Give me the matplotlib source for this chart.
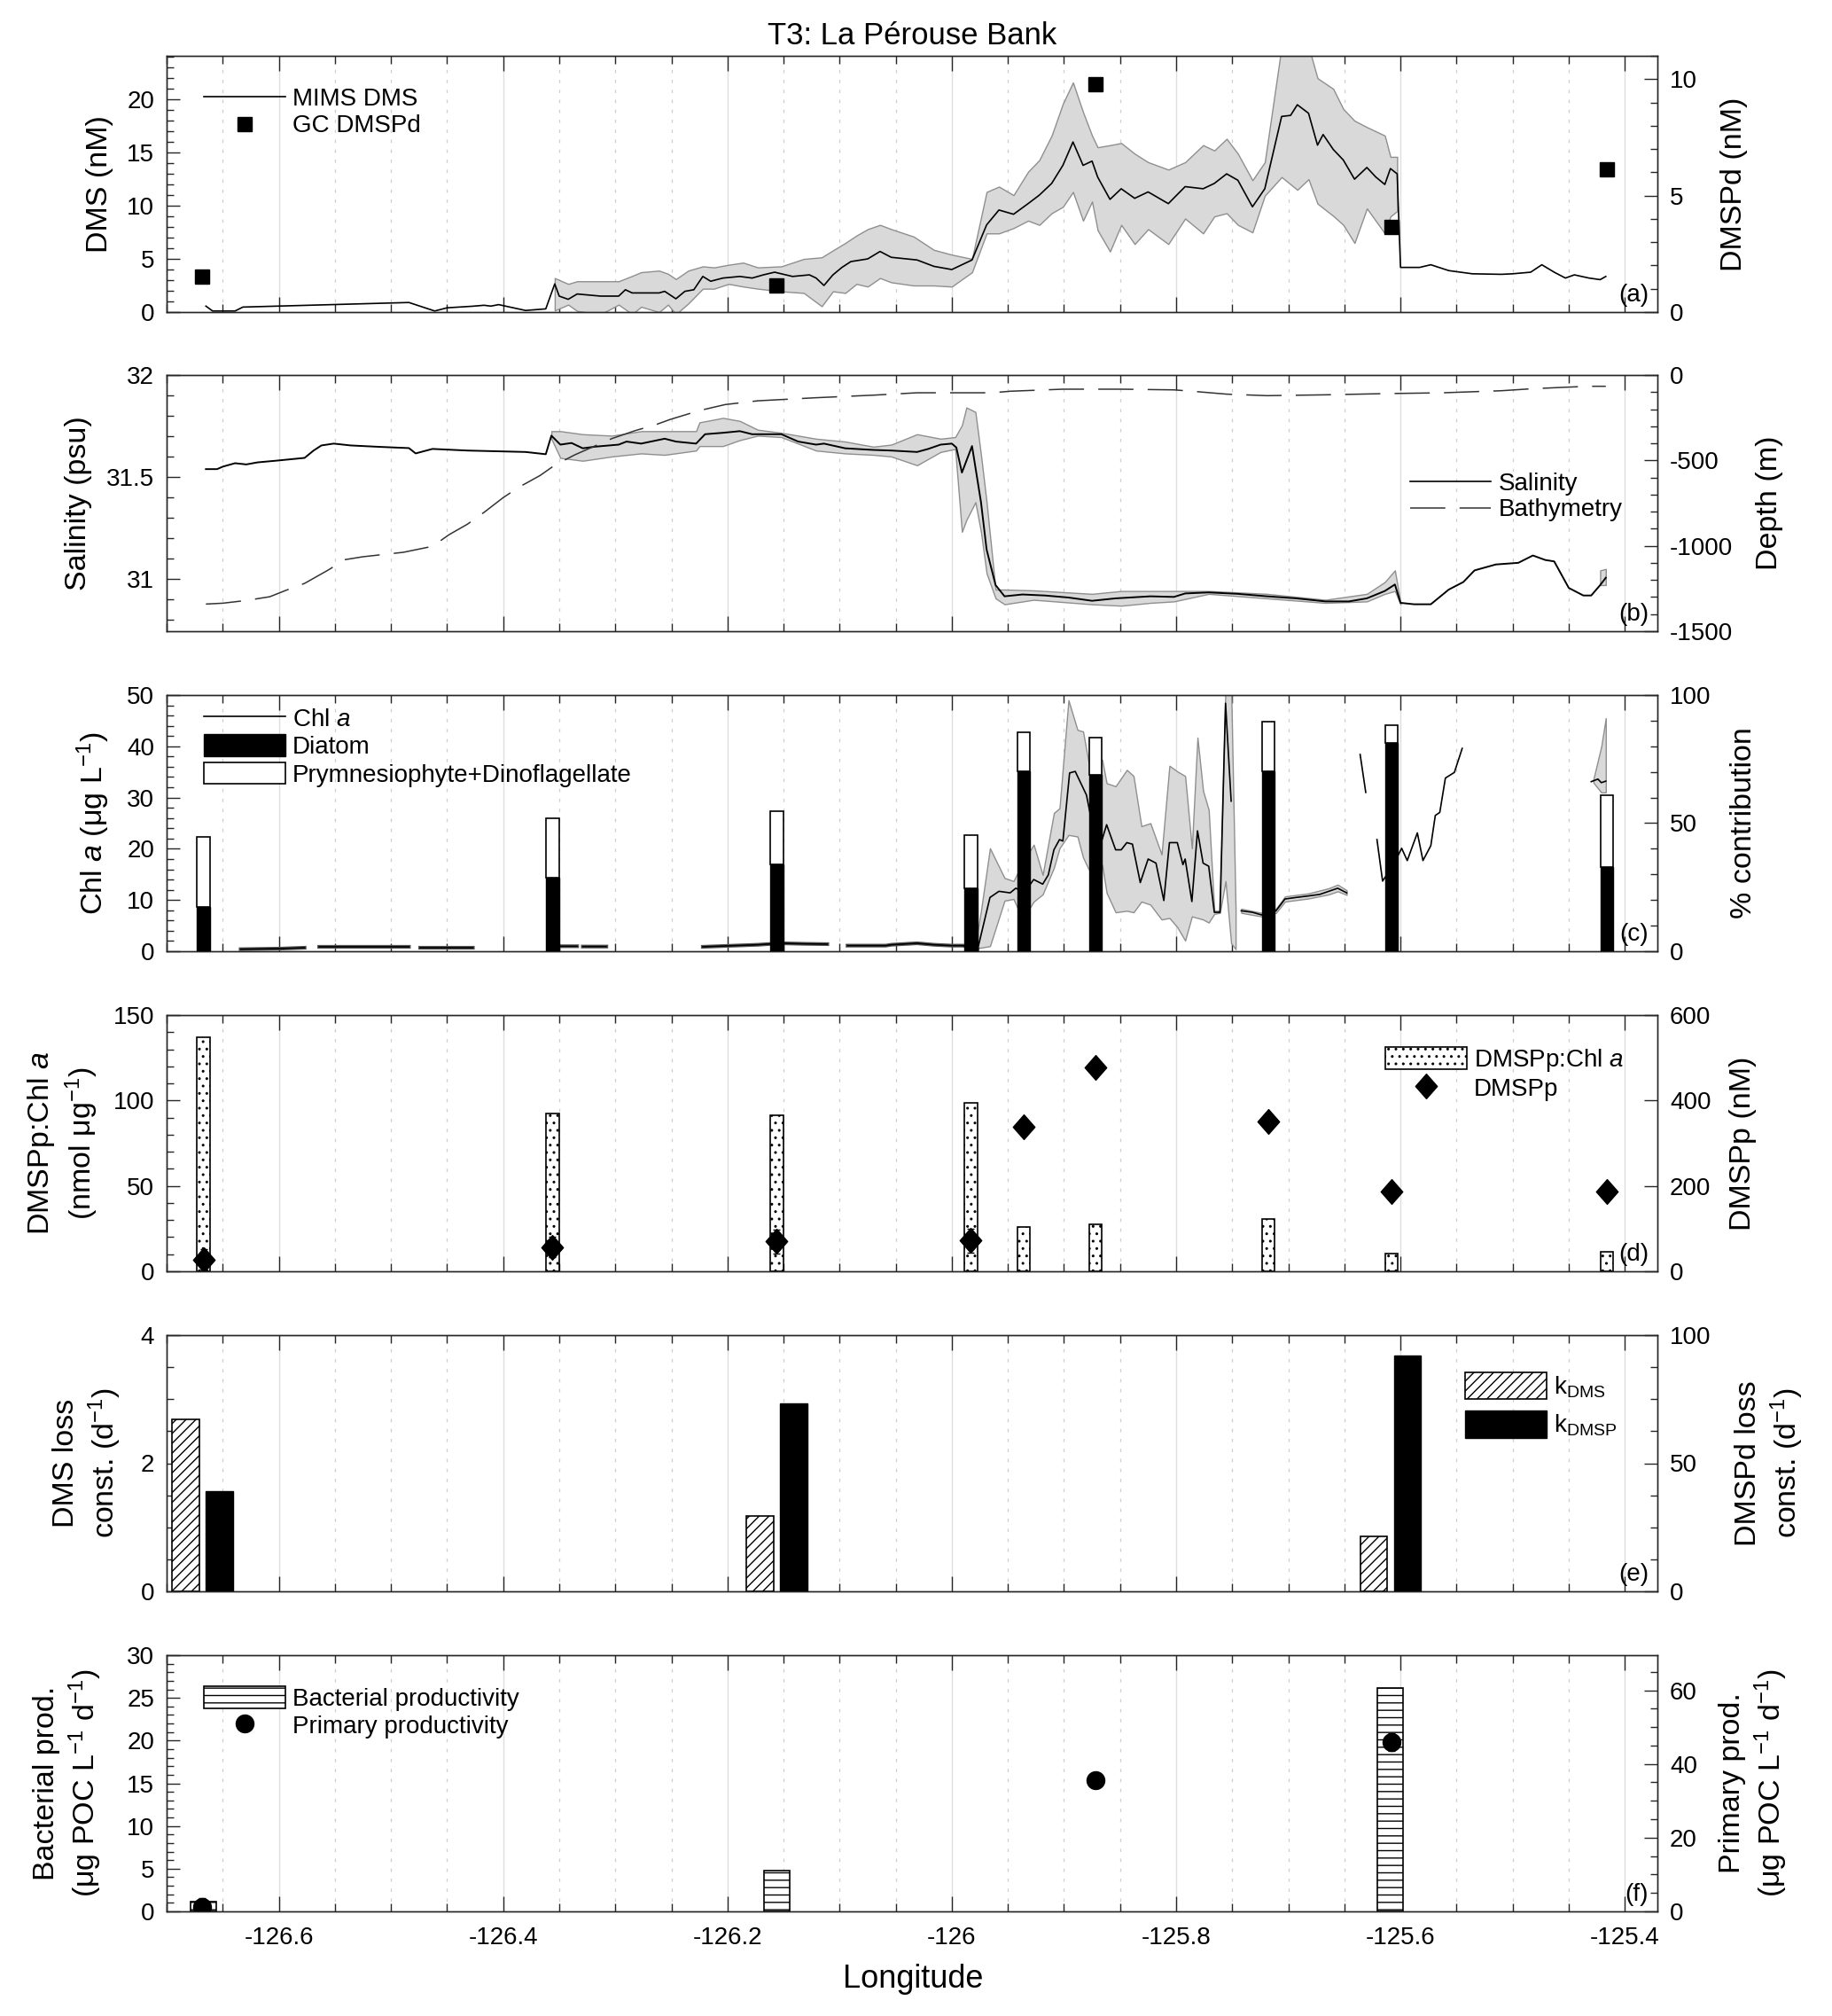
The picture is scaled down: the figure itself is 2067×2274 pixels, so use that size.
import numpy as np
import matplotlib
matplotlib.use('Agg')
import matplotlib.pyplot as plt
from matplotlib.path import Path
from matplotlib.ticker import MultipleLocator, FuncFormatter
from matplotlib.lines import Line2D
from matplotlib.patches import Patch

nan = np.nan

# ------------------------------------------------------------------ data
# (a) MIMS DMS (nM) along track
dms_lon = [-126.665, -126.659, -126.639, -126.632, -126.484, -126.461, -126.450, -126.427, -126.417, -126.411,
           -126.404, -126.380, -126.362, -126.354, -126.350, -126.342, -126.334, -126.313, -126.297, -126.291,
           -126.285, -126.261, -126.256, -126.246, -126.238, -126.230, -126.222, -126.215, -126.204, -126.189,
           -126.178, -126.168, -126.158, -126.142, -126.127, -126.121, -126.114, -126.106, -126.098, -126.090,
           -126.075, -126.064, -126.054, -126.031, -126.016, -126.000, -125.982, -125.969, -125.958, -125.945,
           -125.932, -125.922, -125.911, -125.901, -125.892, -125.883, -125.875, -125.870, -125.859, -125.849,
           -125.837, -125.825, -125.807, -125.792, -125.776, -125.766, -125.755, -125.745, -125.732, -125.721,
           -125.706, -125.698, -125.692, -125.682, -125.674, -125.669, -125.660, -125.651, -125.641, -125.630,
           -125.622, -125.614, -125.609, -125.603, -125.600, -125.583, -125.573, -125.557, -125.536, -125.510,
           -125.500, -125.484, -125.474, -125.463, -125.453, -125.445, -125.432, -125.422, -125.417]
dms = [0.56, 0.10, 0.10, 0.47, 0.90, 0.10, 0.40, 0.55, 0.64, 0.56,
       0.70, 0.15, 0.30, 2.65, 1.50, 1.20, 1.70, 1.50, 1.50, 2.10,
       1.80, 1.80, 1.95, 1.25, 1.95, 2.10, 3.35, 2.90, 3.20, 3.35,
       3.20, 3.50, 3.75, 3.35, 3.50, 3.20, 2.50, 3.50, 4.20, 4.75,
       5.00, 5.70, 5.15, 4.90, 4.30, 4.00, 4.90, 8.20, 9.60, 9.20,
       10.20, 11.00, 12.10, 13.80, 16.00, 13.80, 14.20, 12.70, 10.60, 11.60,
       10.70, 11.30, 10.20, 11.80, 11.60, 12.10, 13.00, 12.40, 9.90, 11.60,
       18.40, 18.50, 19.50, 18.70, 15.70, 16.70, 15.30, 14.30, 12.50, 13.60,
       12.70, 12.00, 13.50, 13.00, 4.20, 4.20, 4.45, 3.90, 3.60, 3.55,
       3.60, 3.75, 4.45, 3.75, 3.20, 3.50, 3.20, 3.05, 3.35]
dms_band_lon = [-126.354, -126.342, -126.334, -126.313, -126.297, -126.285, -126.277, -126.261, -126.253, -126.246,
                -126.235, -126.222, -126.212, -126.199, -126.186, -126.173, -126.152, -126.132, -126.116, -126.106,
                -126.095, -126.085, -126.075, -126.064, -126.054, -126.034, -126.016, -126.000, -125.982, -125.969,
                -125.958, -125.945, -125.932, -125.922, -125.911, -125.901, -125.892, -125.883, -125.875, -125.870,
                -125.859, -125.849, -125.837, -125.825, -125.807, -125.792, -125.776, -125.766, -125.755, -125.745,
                -125.732, -125.721, -125.706, -125.692, -125.682, -125.674, -125.660, -125.651, -125.641, -125.630,
                -125.614, -125.609, -125.603]
dms_band_lo = [0.15, 0.70, 0.10, -0.2, 0.70, -0.2, 0.5, 0.0, 0.7, -0.2,
               0.8, 2.20, 2.20, 2.65, 2.40, 2.20, 1.95, 1.80, 0.55, 1.95,
               1.80, 2.65, 2.40, 3.20, 2.80, 2.50, 2.50, 2.40, 3.75, 7.40,
               7.40, 7.90, 8.60, 8.20, 9.30, 9.90, 11.30, 8.60, 10.40, 7.70,
               5.70, 8.20, 6.40, 7.80, 6.40, 8.80, 7.40, 9.00, 9.30, 8.20,
               7.50, 10.95, 12.70, 11.50, 12.50, 10.20, 9.05, 8.20, 6.50, 9.75,
               7.40, 9.00, 9.50]
dms_band_hi = [3.20, 2.65, 2.90, 2.90, 2.90, 3.40, 3.75, 3.90, 3.60, 3.10,
               3.90, 4.30, 4.20, 4.45, 4.65, 4.20, 4.30, 5.00, 5.15, 5.80,
               6.50, 7.20, 7.80, 8.20, 7.80, 7.10, 5.85, 5.40, 5.00, 11.30,
               11.80, 11.00, 13.20, 14.30, 16.60, 19.60, 21.60, 18.80, 16.60, 15.50,
               15.70, 15.90, 14.90, 14.10, 13.40, 14.10, 15.70, 15.20, 16.30, 14.90,
               12.40, 14.10, 25.0, 25.0, 25.0, 22.0, 21.0, 19.10, 18.00, 17.40,
               16.60, 14.60, 14.60]
# GC DMSPd (nM)
gc_lon = [-126.668, -126.156, -125.872, -125.608, -125.416]
gc_dmspd = [1.52, 1.14, 9.78, 3.65, 6.12]

# (b) salinity (psu)
sal_lon = [-126.665, -126.655, -126.650, -126.639, -126.629, -126.619, -126.603, -126.577, -126.569, -126.562,
           -126.551, -126.536, -126.510, -126.484, -126.478, -126.463, -126.432, -126.380, -126.362, -126.357,
           -126.349, -126.339, -126.329, -126.318, -126.297, -126.290, -126.277, -126.256, -126.246, -126.228,
           -126.220, -126.204, -126.189, -126.178, -126.152, -126.137, -126.121, -126.114, -126.095, -126.070,
           -126.054, -126.031, -126.021, -126.010, -126.000, -125.996, -125.991, -125.982, -125.974, -125.969,
           -125.961, -125.953, -125.937, -125.917, -125.896, -125.875, -125.854, -125.823, -125.802, -125.792,
           -125.771, -125.745, -125.719, -125.693, -125.667, -125.646, -125.630, -125.614, -125.605, -125.600,
           -125.588, -125.573, -125.565, -125.557, -125.544, -125.534, -125.515, -125.495, -125.482, -125.471,
           -125.463, -125.450, -125.437, -125.430, -125.422, -125.417]
sal = [31.539, 31.539, 31.551, 31.568, 31.562, 31.572, 31.580, 31.594, 31.630, 31.655,
       31.664, 31.655, 31.648, 31.642, 31.616, 31.638, 31.630, 31.623, 31.612, 31.703,
       31.659, 31.667, 31.641, 31.649, 31.659, 31.674, 31.664, 31.688, 31.674, 31.664,
       31.710, 31.717, 31.725, 31.710, 31.710, 31.674, 31.659, 31.664, 31.641, 31.633,
       31.630, 31.623, 31.638, 31.659, 31.664, 31.645, 31.522, 31.652, 31.377, 31.145,
       30.971, 30.916, 30.925, 30.920, 30.910, 30.894, 30.906, 30.916, 30.913, 30.930,
       30.935, 30.928, 30.916, 30.906, 30.891, 30.891, 30.906, 30.942, 30.974, 30.884,
       30.877, 30.877, 30.913, 30.949, 30.986, 31.043, 31.072, 31.080, 31.116, 31.094,
       31.087, 30.957, 30.920, 30.920, 30.971, 31.007]
sal_band_lon = [-126.357, -126.349, -126.329, -126.303, -126.277, -126.256, -126.228, -126.225, -126.204, -126.189,
                -126.173, -126.152, -126.121, -126.095, -126.070, -126.054, -126.031, -126.010, -125.997, -125.991,
                -125.987, -125.979, -125.974, -125.969, -125.961, -125.953, -125.927, -125.875, -125.849, -125.823,
                -125.802, -125.771, -125.719, -125.667, -125.630, -125.614, -125.605, -125.600]
sal_band_lo = [31.688, 31.594, 31.580, 31.601, 31.616, 31.609, 31.630, 31.652, 31.652, 31.681,
               31.703, 31.696, 31.630, 31.616, 31.609, 31.601, 31.558, 31.623, 31.638, 31.232,
               31.290, 31.377, 31.232, 31.029, 30.906, 30.877, 30.899, 30.877, 30.870, 30.884,
               30.891, 30.928, 30.906, 30.884, 30.891, 30.928, 30.942, 30.877]
sal_band_hi = [31.725, 31.725, 31.710, 31.703, 31.725, 31.725, 31.725, 31.768, 31.790, 31.775,
               31.732, 31.717, 31.688, 31.674, 31.649, 31.659, 31.710, 31.688, 31.696, 31.754,
               31.841, 31.819, 31.609, 31.377, 30.949, 30.949, 30.945, 30.928, 30.942, 30.942,
               30.942, 30.942, 30.928, 30.899, 30.928, 30.986, 31.043, 30.884]
sal_band2_lon = [-125.422, -125.417]
sal_band2_lo = [30.971, 30.971]
sal_band2_hi = [31.043, 31.050]
# bathymetry (m)
bathy_lon = [-126.665, -126.650, -126.629, -126.608, -126.593, -126.577, -126.556, -126.541, -126.525, -126.489,
             -126.463, -126.448, -126.432, -126.417, -126.400, -126.386, -126.367, -126.354, -126.336, -126.318,
             -126.303, -126.282, -126.264, -126.251, -126.225, -126.202, -126.173, -126.121, -126.070, -126.031,
             -125.964, -125.948, -125.901, -125.849, -125.802, -125.786, -125.755, -125.719, -125.667, -125.614,
             -125.562, -125.510, -125.484, -125.458, -125.432, -125.417]
bathy = [-1341, -1336, -1320, -1298, -1259, -1220, -1142, -1081, -1064, -1038,
         -1003, -934, -874, -804, -718, -657, -588, -528, -467, -415,
         -372, -325, -291, -260, -208, -173, -151, -133, -118, -104,
         -104, -95, -83, -83, -87, -95, -112, -121, -116, -109,
         -104, -92, -81, -73, -66, -66]

# (c) Chl a (ug/L) along track (nan = gap)
chl_lon = [-126.634, -126.598, -126.577, -126.570, -126.564, -126.536, -126.484, -126.479, -126.474, -126.427,
           -126.390, -126.349, -126.334, -126.331, -126.329, -126.308, -126.260, -126.222, -126.194, -126.173,
           -126.152, -126.131, -126.111, -126.102, -126.093, -126.059, -126.054, -126.031, -126.016, -126.000,
           -125.990, -125.977, -125.966, -125.958, -125.948, -125.943, -125.937, -125.932, -125.927, -125.919,
           -125.914, -125.909, -125.904, -125.901, -125.895, -125.890, -125.880, -125.875, -125.866, -125.862,
           -125.854, -125.849, -125.844, -125.839, -125.832, -125.825, -125.818, -125.811, -125.806, -125.799,
           -125.794, -125.792, -125.786, -125.781, -125.776, -125.771, -125.766, -125.761, -125.756, -125.751,
           -125.746, -125.742, -125.732, -125.724, -125.719, -125.711, -125.703, -125.693, -125.682, -125.672,
           -125.664, -125.656, -125.648, -125.642, -125.636, -125.631, -125.626, -125.621, -125.616, -125.607,
           -125.599, -125.594, -125.585, -125.580, -125.573, -125.569, -125.565, -125.560, -125.552, -125.545,
           -125.490, -125.430, -125.424, -125.421, -125.417]
chl = [0.40, 0.52, 0.69, nan, 0.87, 0.87, 0.87, nan, 0.69, 0.69,
       nan, 0.98, 0.98, nan, 0.92, 0.92, nan, 0.87, 1.10, 1.27,
       1.56, 1.45, 1.39, nan, 1.10, 1.10, 1.27, 1.56, 1.27, 1.10,
       1.10, 0.40, 10.5, 11.7, 11.4, 12.3, 11.7, 12.5, 14.0, 13.1,
       14.9, 19.8, 21.8, 21.5, 34.8, 35.1, 30.5, 25.0, 21.8, 24.7,
       19.8, 19.8, 21.2, 20.9, 13.4, 18.0, 17.2, 9.9, 21.2, 21.2,
       16.9, 18.0, 9.7, 23.5, 17.2, 16.6, 7.6, 7.6, 48.4, 29.3,
       nan, 7.9, 7.6, 7.1, 7.1, 7.9, 10.2, 10.5, 10.8, 11.1,
       11.7, 12.3, 11.4, nan, 38.4, 31.0, nan, 21.8, 13.7, 16.6,
       20.1, 17.7, 23.1, 17.7, 20.6, 26.5, 27.1, 33.8, 34.9, 39.6,
       nan, 33.1, 33.6, 32.9, 33.2]
chl_band_lon = [-125.977, -125.974, -125.966, -125.953, -125.945, -125.937, -125.927, -125.919, -125.909, -125.904,
                -125.896, -125.888, -125.883, -125.878, -125.866, -125.862, -125.854, -125.844, -125.838, -125.831,
                -125.823, -125.813, -125.806, -125.799, -125.792, -125.786, -125.781, -125.776, -125.771, -125.766,
                -125.761, -125.756, -125.751, -125.747]
chl_band_lo = [0.7, 0.7, 1.0, 9.9, 10.2, 6.2, 9.7, 11.1, 16.3, 20.1,
               22.7, 22.4, 18.3, 16.0, 16.9, 11.4, 7.6, 7.9, 7.6, 9.7,
               9.1, 6.2, 6.5, 4.7, 2.1, 6.8, 6.5, 6.2, 5.6, 7.3,
               7.5, 13.7, 1.6, 0.4]
chl_band_hi = [3.9, 7.9, 20.1, 14.3, 13.7, 17.2, 20.8, 14.9, 27.0, 27.9,
               49.0, 43.2, 42.9, 36.8, 37.4, 32.8, 32.2, 35.4, 34.2, 24.4,
               25.0, 18.9, 36.2, 35.1, 34.2, 20.1, 41.7, 31.3, 27.6, 7.9,
               7.9, 52.0, 52.0, 8.0]
chl_band2_lon = [-125.742, -125.724, -125.711, -125.703, -125.682, -125.664, -125.656, -125.648]
chl_band2_lo = [7.5, 6.8, 7.5, 9.7, 10.3, 11.1, 11.7, 11.0]
chl_band2_hi = [8.3, 7.5, 8.3, 10.7, 11.3, 12.3, 13.0, 11.9]
chl_band3_lon = [-125.428, -125.421, -125.417]
chl_band3_lo = [32.9, 31.0, 31.0]
chl_band3_hi = [33.6, 40.0, 45.5]

# stations (c, d)
stn_lon = [-126.667, -126.356, -126.156, -125.983, -125.936, -125.872, -125.718, -125.608, -125.416]
diatom_pct = [17.3, 28.8, 33.8, 24.5, 70.4, 68.8, 70.4, 81.4, 32.9]
prym_dino_pct = [27.4, 23.2, 20.9, 20.8, 15.0, 14.7, 19.2, 7.0, 28.0]
dmspp_chl = [137.2, 92.6, 91.4, 98.8, 25.9, 27.3, 30.4, 10.2, 11.6]
dmspp = [27.6, 56.7, 70.5, 71.9, 338.7, 478.3, 350.5, 186.0, 186.0]
dmspp_err = [24, 24, 28, 28, 0, 0, 0, 0, 0]

# (e) loss rate constants (d-1)
loss_lon = [-126.668, -126.156, -125.609]
k_dms = [2.69, 1.18, 0.855]
k_dmsp = [39.1, 73.4, 92.0]

# (f) productivity
bp_lon = [-126.667, -126.156, -125.609]
bact_prod = [1.1, 4.76, 26.2]
pp_lon = [-126.668, -125.872, -125.608]
prim_prod = [1.2, 35.6, 45.9]
prim_err = [2.4, 0.0, 2.4]

# ------------------------------------------------------------------ style
plt.rcParams['font.family'] = ['Liberation Sans', 'DejaVu Sans']
plt.rcParams['mathtext.fontset'] = 'custom'
plt.rcParams['mathtext.rm'] = 'Liberation Sans'
plt.rcParams['mathtext.it'] = 'Liberation Sans:italic'
plt.rcParams['mathtext.bf'] = 'Liberation Sans:bold'
plt.rcParams['hatch.linewidth'] = 1.0
plt.rcParams['axes.unicode_minus'] = False

W, HF = 2067, 2274
fig = plt.figure(figsize=(W / 100, HF / 100), dpi=100)
AX_L, AX_R = 188, 1870
TOPS = [63, 423, 784, 1145, 1506, 1867]
PH = 289
XMIN, XMAX = -126.7, -125.371
AXC = '#262626'
FS = 20
LFS = 24.5


def fmt_fun(v, p):
    v = round(v, 6)
    if v == 0:
        return '0'
    return f'{v:g}'


fmt = FuncFormatter(fmt_fun)


def make_axes(top):
    ax = fig.add_axes([AX_L / W, 1 - (top + PH) / HF, (AX_R - AX_L) / W, PH / HF])
    ax2 = ax.twinx()
    return ax, ax2


def style(ax, ax2, ylim, ymaj, ymin, ylim2, ymaj2, ymin2, xlabels=False):
    ax.set_xlim(XMIN, XMAX)
    ax.xaxis.set_major_locator(MultipleLocator(0.2))
    ax.xaxis.set_minor_locator(MultipleLocator(0.05))
    ax.xaxis.set_major_formatter(fmt)
    ax.grid(True, which='major', axis='x', color='#dedede', lw=1.0)
    ax.grid(True, which='minor', axis='x', color='#cfcfcf', lw=0.9, ls=(0, (3, 6)))
    ax.set_axisbelow(True)
    ax.set_ylim(*ylim)
    ax.yaxis.set_major_locator(MultipleLocator(ymaj))
    if ymin:
        ax.yaxis.set_minor_locator(MultipleLocator(ymin))
    ax.yaxis.set_major_formatter(fmt)
    ax2.set_ylim(*ylim2)
    ax2.yaxis.set_major_locator(MultipleLocator(ymaj2))
    if ymin2:
        ax2.yaxis.set_minor_locator(MultipleLocator(ymin2))
    ax2.yaxis.set_major_formatter(fmt)
    for a in (ax, ax2):
        for s in a.spines.values():
            s.set_color(AXC)
            s.set_linewidth(1.0)
    ax.tick_params(axis='x', which='major', direction='in', length=12.5, width=1.0, top=True, bottom=True,
                   color=AXC, labelsize=FS, pad=12, labelbottom=xlabels)
    ax.tick_params(axis='x', which='minor', direction='in', length=6.5, width=1.0, top=True, bottom=True, color=AXC)
    for a in (ax, ax2):
        a.tick_params(axis='y', which='major', direction='in', length=11, width=1.0, color=AXC,
                      labelsize=FS, pad=10)
        a.tick_params(axis='y', which='minor', direction='in', length=6, width=1.0, color=AXC)


def ylab(x, top, text, **kw):
    fig.text(x / W, 1 - (top + PH / 2) / HF, text, rotation=90, ha='center', va='center',
             fontsize=LFS, linespacing=1.25, **kw)


def panel_tag(ax2, tag):
    ax2.text(0.994, 0.02, tag, transform=ax2.transAxes, ha='right', va='bottom', fontsize=FS)


leg_kw = dict(frameon=False, fontsize=FS, borderpad=0, borderaxespad=0, handletextpad=0.3,
              handlelength=3.3, loc='upper left')

diamond = Path([(0, 1), (0.88, 0), (0, -1), (-0.88, 0), (0, 1)],
               [Path.MOVETO, Path.LINETO, Path.LINETO, Path.LINETO, Path.CLOSEPOLY])

BAND_FC = '#d9d9d9'
BAND_EC = '#8f8f8f'

# ---------------------------------------------------------------- (a)
ax, ax2 = make_axes(TOPS[0])
ax.fill_between(dms_band_lon, dms_band_lo, dms_band_hi, facecolor=BAND_FC, edgecolor=BAND_EC, lw=1.0, zorder=2)
ax.plot(dms_lon, dms, color='k', lw=1.2, zorder=3)
ax2.plot(gc_lon, gc_dmspd, ls='none', marker='s', ms=11, color='k')
style(ax, ax2, (0, 24.1), 5, 1, (0, 11), 5, 1)
ax2.legend(handles=[Line2D([], [], color='k', lw=1.2),
                    Line2D([], [], ls='none', marker='s', ms=11, color='k')],
           labels=['MIMS DMS', 'GC DMSPd'], bbox_to_anchor=(0.025, 0.875), labelspacing=0.15, **leg_kw)
panel_tag(ax2, '(a)')
ylab(112, TOPS[0], 'DMS (nM)')
ylab(1957, TOPS[0], 'DMSPd (nM)')

# ---------------------------------------------------------------- (b)
ax, ax2 = make_axes(TOPS[1])
ax.fill_between(sal_band_lon, sal_band_lo, sal_band_hi, facecolor=BAND_FC, edgecolor=BAND_EC, lw=1.0, zorder=2)
ax.fill_between(sal_band2_lon, sal_band2_lo, sal_band2_hi, facecolor=BAND_FC, edgecolor=BAND_EC, lw=1.0, zorder=2)
ax.plot(sal_lon, sal, color='k', lw=1.4, zorder=3)
ax2.plot(bathy_lon, bathy, color='#333333', lw=1.1, ls=(0, (26, 10.5)))
style(ax, ax2, (30.745, 32), 0.5, 0.1, (-1500, 0), 500, 100)
ax2.legend(handles=[Line2D([], [], color='k', lw=1.2),
                    Line2D([], [], color='#333333', lw=1.1, ls=(0, (26, 10.5)))],
           labels=['Salinity', 'Bathymetry'], bbox_to_anchor=(0.834, 0.619), labelspacing=0.12, **leg_kw)
panel_tag(ax2, '(b)')
ylab(89, TOPS[1], 'Salinity (psu)')
ylab(1997, TOPS[1], 'Depth (m)')

# ---------------------------------------------------------------- (c)
ax, ax2 = make_axes(TOPS[2])
ax.fill_between(chl_band_lon, chl_band_lo, chl_band_hi, facecolor=BAND_FC, edgecolor=BAND_EC, lw=1.0, zorder=2)
ax.fill_between(chl_band2_lon, chl_band2_lo, chl_band2_hi, facecolor=BAND_FC, edgecolor=BAND_EC, lw=1.0, zorder=2)
ax.fill_between(chl_band3_lon, chl_band3_lo, chl_band3_hi, facecolor=BAND_FC, edgecolor=BAND_EC, lw=1.0, zorder=2)
ax.plot(chl_lon[:32], chl[:32], color='#555555', lw=3.0, zorder=3)
ax.plot(chl_lon, chl, color='k', lw=1.2, zorder=3)
BW = 0.0115
ax2.bar(stn_lon, diatom_pct, width=BW, color='k', edgecolor='k', lw=1.0, zorder=4)
ax2.bar(stn_lon, prym_dino_pct, width=BW, bottom=diatom_pct, color='white', edgecolor='k', lw=1.2, zorder=4)
style(ax, ax2, (0, 50), 10, 2, (0, 100), 50, 10)
ax2.legend(handles=[Line2D([], [], color='k', lw=1.2),
                    Patch(facecolor='k', edgecolor='k'),
                    Patch(facecolor='white', edgecolor='k', lw=1.2)],
           labels=['Chl $a$', 'Diatom', 'Prymnesiophyte+Dinoflagellate'],
           bbox_to_anchor=(0.025, 0.955), labelspacing=0.12, handleheight=1.0, **leg_kw)
panel_tag(ax2, '(c)')
ylab(105, TOPS[2], 'Chl $a$ (μg L$^{-1}$)')
ylab(1967, TOPS[2], '% contribution')

# ---------------------------------------------------------------- (d)
ax, ax2 = make_axes(TOPS[3])
ax.bar(stn_lon, dmspp_chl, width=BW, color='white', edgecolor='k', lw=1.2, hatch='..', zorder=3)
ax2.errorbar(stn_lon[:4], dmspp[:4], yerr=dmspp_err[:4], fmt='none', ecolor='k', elinewidth=1.0, capsize=3)
ax2.plot(stn_lon, dmspp, ls='none', marker=diamond, ms=20, color='k')
style(ax, ax2, (0, 150), 50, 10, (0, 600), 200, None)
ax2.legend(handles=[Patch(facecolor='white', edgecolor='k', lw=1.2, hatch='..'),
                    Line2D([], [], ls='none', marker=diamond, ms=20, color='k')],
           labels=['DMSPp:Chl $a$', 'DMSPp'], bbox_to_anchor=(0.8175, 0.875), labelspacing=0.12,
           handleheight=1.0, **leg_kw)
panel_tag(ax2, '(d)')
ylab(71, TOPS[3], 'DMSPp:Chl $a$\n(nmol μg$^{-1}$)')
ylab(1967, TOPS[3], 'DMSPp (nM)')

# ---------------------------------------------------------------- (e)
ax, ax2 = make_axes(TOPS[4])
OFF = 0.015
EW = 0.0238
ax.bar(np.array(loss_lon) - OFF, k_dms, width=EW, color='white', edgecolor='k', lw=1.2, hatch='///', zorder=3)
ax2.bar(np.array(loss_lon) + OFF, k_dmsp, width=EW, color='k', edgecolor='k', lw=1.0)
style(ax, ax2, (0, 4), 2, 0.5, (0, 100), 50, 12.5)
ax2.legend(handles=[Patch(facecolor='white', edgecolor='k', lw=1.2, hatch='///'),
                    Patch(facecolor='k', edgecolor='k')],
           labels=['k$_{\\mathrm{DMS}}$', 'k$_{\\mathrm{DMSP}}$'], bbox_to_anchor=(0.871, 0.855),
           labelspacing=0.45, handleheight=1.3, **leg_kw)
panel_tag(ax2, '(e)')
ylab(99, TOPS[4], 'DMS loss\nconst. (d$^{-1}$)')
ylab(1997, TOPS[4], 'DMSPd loss\nconst. (d$^{-1}$)')

# ---------------------------------------------------------------- (f)
ax, ax2 = make_axes(TOPS[5])
ax.bar(bp_lon, bact_prod, width=0.023, color='white', edgecolor='k', lw=1.2, hatch='--', zorder=3)
ax2.errorbar(pp_lon, prim_prod, yerr=prim_err, fmt='none', ecolor='k', elinewidth=1.0, capsize=3)
ax2.plot(pp_lon, prim_prod, ls='none', marker='o', ms=14.4, color='k')
style(ax, ax2, (0, 30), 5, 1, (0, 69.5), 20, 5, xlabels=True)
ax2.legend(handles=[Patch(facecolor='white', edgecolor='k', lw=1.2, hatch='--'),
                    Line2D([], [], ls='none', marker='o', ms=14.4, color='k')],
           labels=['Bacterial productivity', 'Primary productivity'], bbox_to_anchor=(0.025, 0.879),
           labelspacing=0.12, handleheight=1.0, **leg_kw)
panel_tag(ax2, '(f)')
ylab(77, TOPS[5], 'Bacterial prod.\n(μg POC L$^{-1}$ d$^{-1}$)')
ylab(1979, TOPS[5], 'Primary prod.\n(μg POC L$^{-1}$ d$^{-1}$)')

fig.text(1030 / W, 1 - 2232 / HF, 'Longitude', ha='center', va='center', fontsize=26)
fig.text(1029 / W, 1 - 50 / HF, 'T3: La Pérouse Bank', ha='center', va='baseline', fontsize=25)

fig.savefig('out.png', dpi=100)
